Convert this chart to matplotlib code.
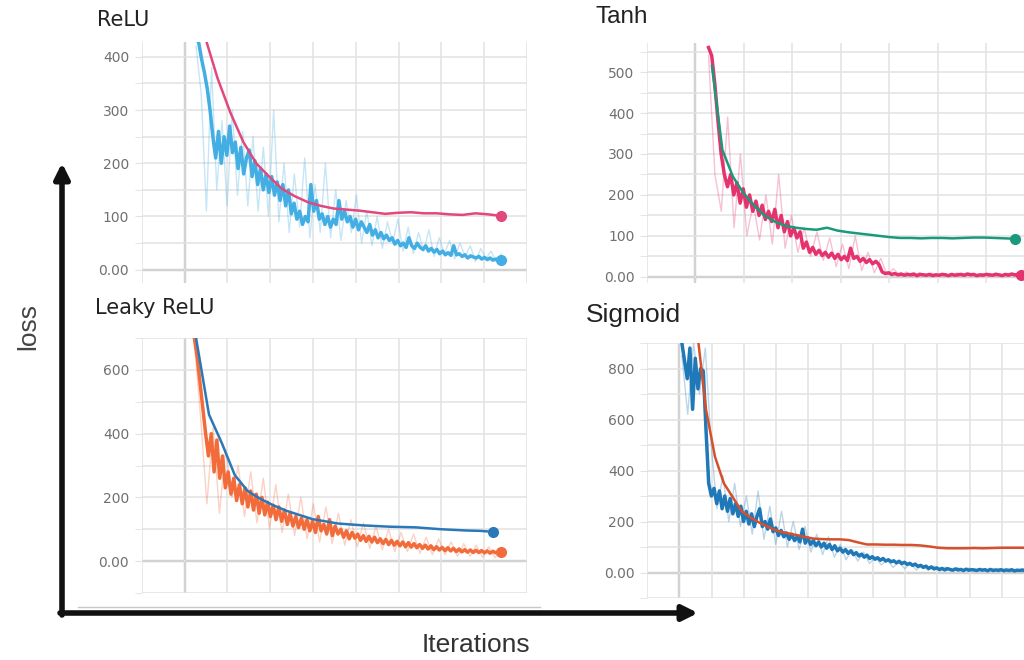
import numpy as np
import matplotlib.pyplot as plt
from matplotlib.ticker import MultipleLocator, FuncFormatter
from matplotlib.lines import Line2D

# ---- ReLU ----
relu_raw = [440, 425, 395, 370, 340, 300, 250, 210, 260, 200,
            250, 215, 270, 220, 240, 190, 230, 180, 210, 225,
            175, 205, 160, 190, 150, 180, 145, 175, 140, 165,
            130, 160, 120, 150, 105, 125, 95, 110, 85, 100,
            90, 160, 110, 130, 95, 105, 85, 100, 80, 95,
            85, 130, 95, 110, 90, 100, 80, 95, 75, 90,
            80, 70, 85, 65, 75, 60, 70, 58, 65, 55,
            60, 48, 55, 45, 50, 42, 60, 45, 40, 50,
            42, 38, 45, 35, 40, 33, 38, 30, 35, 28,
            32, 27, 45, 28, 30, 25, 28, 22, 26, 24,
            22, 25, 20, 23, 19, 22, 18, 20, 17, 18]
relu_light = [420, 330, 110, 380, 150, 280, 120, 300, 140, 260,
              120, 250, 110, 230, 100, 300, 90, 200, 70, 180,
              80, 210, 60, 160, 70, 200, 60, 150, 55, 130,
              70, 140, 50, 110, 45, 100, 40, 90, 50, 95,
              35, 80, 30, 70, 35, 75, 25, 60, 30, 55,
              20, 50, 25, 45, 15, 40, 20, 35, 15, 30]
relu_smooth = [440, 360, 295, 240, 200, 175, 152, 138, 127, 120, 115, 113,
               111, 108, 105, 107, 108, 106, 106, 104, 103, 106, 104, 101]

# ---- Tanh ----
tanh_raw = [560, 540, 470, 380, 300, 250, 220, 250, 200, 230,
            180, 215, 170, 200, 160, 185, 150, 175, 140, 160,
            135, 165, 120, 150, 110, 135, 100, 120, 95, 110,
            70, 85, 60, 72, 55, 65, 52, 60, 48, 58,
            45, 55, 42, 50, 40, 70, 45, 50, 38, 45,
            35, 42, 32, 38, 30, 12, 8, 10, 6, 8,
            5, 7, 4, 6, 5, 7, 3, 6, 5, 4,
            6, 3, 5, 4, 6, 5, 3, 6, 4, 5,
            6, 4, 7, 5, 6, 3, 5, 4, 6, 5,
            4, 6, 5, 3, 6, 4, 7, 5, 6, 5]
tanh_light = [540, 250, 160, 390, 120, 300, 100, 180, 90, 200,
              80, 250, 70, 150, 60, 120, 50, 110, 40, 95,
              25, 80, 20, 100, 15, 60, 10, 45, 5, 20,
              2, 12, 1, 10, 2, 9, 1, 8, 2, 10,
              1, 9, 2, 8, 1, 10, 2, 9, 1, 8]
tanh_smooth = [515, 310, 245, 205, 175, 150, 135, 125, 120, 117, 115, 120,
               113, 109, 106, 103, 100, 97, 95, 95, 94, 95, 95, 94, 95,
               96, 96, 95, 94, 93]

# ---- Leaky ReLU ----
leaky_raw = [700, 640, 560, 480, 400, 330, 400, 280, 380, 260,
             330, 230, 280, 210, 260, 190, 240, 180, 230, 170,
             220, 160, 210, 150, 200, 145, 185, 140, 175, 130,
             170, 125, 160, 115, 150, 110, 140, 105, 135, 100,
             130, 95, 125, 90, 140, 95, 115, 85, 130, 80,
             110, 85, 100, 75, 95, 70, 90, 72, 85, 65,
             80, 62, 78, 60, 75, 58, 70, 55, 68, 52,
             65, 50, 62, 48, 60, 45, 58, 44, 55, 42,
             52, 40, 50, 38, 48, 36, 45, 35, 43, 33,
             42, 32, 40, 30, 38, 29, 36, 28, 35, 27,
             34, 27, 33, 26, 32, 25, 31, 26, 30, 28]
leaky_light = [690, 450, 180, 420, 150, 350, 200, 300, 140, 280,
               120, 260, 100, 240, 90, 210, 80, 200, 70, 180,
               60, 170, 55, 150, 50, 130, 45, 120, 40, 110,
               35, 100, 30, 90, 30, 85, 25, 75, 20, 70,
               20, 60, 15, 55, 15, 50, 12, 45, 10, 40]
leaky_smooth = [700, 460, 370, 270, 220, 195, 175, 158, 145, 132, 125, 118,
                115, 112, 110, 108, 107, 106, 103, 100, 98, 96, 95, 92]

# ---- Sigmoid ----
sig_raw = [900, 830, 760, 880, 640, 840, 720, 800, 790, 560,
           350, 300, 330, 270, 320, 250, 300, 240, 290, 230,
           270, 220, 260, 200, 240, 190, 230, 180, 220, 250,
           180, 200, 170, 210, 160, 175, 145, 165, 140, 155,
           130, 150, 125, 140, 120, 170, 115, 135, 110, 125,
           105, 120, 100, 115, 95, 110, 90, 105, 85, 95,
           80, 90, 75, 85, 70, 78, 65, 72, 60, 68,
           55, 62, 52, 58, 48, 55, 45, 50, 42, 46,
           38, 44, 35, 40, 32, 36, 28, 33, 24, 28,
           20, 25, 16, 22, 14, 18, 12, 16, 10, 15,
           12, 9, 14, 10, 12, 8, 13, 9, 11, 10,
           8, 12, 9, 11, 7, 12, 8, 10, 9, 11,
           7, 10, 8, 11, 6, 9, 8, 10, 7, 9]
sig_light = [850, 620, 900, 700, 880, 500, 250, 380, 200, 350,
             180, 300, 150, 320, 130, 260, 110, 240, 100, 200,
             90, 180, 80, 150, 70, 140, 60, 110, 50, 90,
             45, 80, 35, 60, 30, 50, 20, 40, 15, 35,
             10, 30, 8, 25, 5, 22, 5, 20, 3, 18,
             4, 16, 3, 15, 2, 14, 3, 13, 2, 12]
sig_smooth = [950, 640, 455, 350, 295, 240, 215, 195, 178, 163, 155, 148,
              140, 133, 131, 130, 130, 127, 118, 110, 110, 109, 109, 108,
              108, 106, 102, 97, 95, 95, 95, 96, 95, 96, 97, 97, 97, 97]

W, H = 1024, 660
fig = plt.figure(figsize=(W / 100, H / 100), dpi=100)


def fmt(v, pos):
    return '0.00' if abs(v) < 1e-9 else f'{v:.0f}'


def rect(x0, y0, x1, y1):
    return [x0 / W, 1 - y1 / H, (x1 - x0) / W, (y1 - y0) / H]


def panel(r, xlim, ylim, major, minor):
    ax = fig.add_axes(r)
    ax.set_xlim(*xlim)
    ax.set_ylim(*ylim)
    ax.xaxis.set_major_locator(MultipleLocator(1))
    ax.yaxis.set_major_locator(MultipleLocator(major))
    ax.yaxis.set_minor_locator(MultipleLocator(minor))
    ax.yaxis.set_major_formatter(FuncFormatter(fmt))
    ax.grid(which='both', color='#e2e2e2', lw=1.1)
    ax.axhline(0, color='#a0a0a0', lw=1.6, zorder=1)
    ax.axvline(0, color='#a0a0a0', lw=1.6, zorder=1)
    for s in ax.spines.values():
        s.set_visible(False)
    ax.tick_params(axis='x', labelbottom=False, length=0)
    ax.tick_params(axis='y', which='both', length=5, color='#e2e2e2',
                   labelsize=10, labelcolor='#707070', pad=4)
    return ax


def draw(ax, light, raw, smooth, xr, xs, c_raw, c_smooth, ends=True):
    ax.plot(np.linspace(xr[0], xr[1], len(light)), light, color=c_raw,
            lw=1.0, alpha=0.3, zorder=2)
    x_raw = np.linspace(xr[0], xr[1], len(raw))
    ax.plot(x_raw, raw, color=c_raw, lw=2.5, zorder=3)
    x_s = np.linspace(xs[0], xs[1], len(smooth))
    ax.plot(x_s, smooth, color=c_smooth, lw=1.8, zorder=4)
    if ends:
        ax.plot(x_s[-1], smooth[-1], 'o', color=c_smooth, ms=7, zorder=5,
                clip_on=False)
        ax.plot(x_raw[-1], raw[-1], 'o', color=c_raw, ms=7, zorder=5,
                clip_on=False)


# ReLU
ax1 = panel(rect(141.7, 42, 527, 283), (-1, 8), (-25, 428), 100, 50)
draw(ax1, relu_light, relu_raw, relu_smooth, (0.27, 7.4), (0.47, 7.4),
     '#42aee3', '#e2487c')

# Tanh
ax2 = panel(rect(647, 43, 1024, 283), (-1, 6.78), (-15, 571), 100, 50)
draw(ax2, tanh_light, tanh_raw, tanh_smooth, (0.27, 6.72), (0.34, 6.6),
     '#e5336d', '#1b9a7b')

# Leaky ReLU
ax3 = panel(rect(141.7, 338, 527, 593), (-1, 8), (-100, 700), 200, 100)
draw(ax3, leaky_light, leaky_raw, leaky_smooth, (0.23, 7.4), (0.27, 7.2),
     '#f26b3b', '#2b78b8')

# Sigmoid (cut off at the right, no end dots)
ax4 = panel(rect(647, 343, 1024, 598), (-1, 10.68), (-100, 900), 200, 100)
draw(ax4, sig_light, sig_raw, sig_smooth, (0.08, 10.8), (0.55, 10.8),
     '#1f78b8', '#d6502c', ends=False)

# panel titles
fig.text(97 / W, 1 - 20 / H, 'ReLU', fontsize=15, color='#222222',
         va='center', family='DejaVu Sans')
fig.text(95 / W, 1 - 308 / H, 'Leaky ReLU', fontsize=15, color='#222222',
         va='center', family='DejaVu Sans')
fig.text(596 / W, 1 - 17 / H, 'Tanh', fontsize=17.5, color='#222222',
         va='center', family='Liberation Sans')
fig.text(586 / W, 1 - 315 / H, 'Sigmoid', fontsize=19, color='#222222',
         va='center', family='Liberation Sans')

# big axis arrows
arrow = dict(arrowstyle='-|>,head_width=0.45,head_length=0.9',
             lw=4, color='#111111', shrinkA=0, shrinkB=0)
fig.add_artist(Line2D([78 / W, 540 / W], [1 - 607 / H] * 2, color='#c8c8c8',
                      lw=1))
plt.annotate('', xy=(62, H - 163), xytext=(62, H - 615),
             xycoords='figure pixels', textcoords='figure pixels',
             arrowprops=arrow)
plt.annotate('', xy=(698, H - 613), xytext=(60, H - 613),
             xycoords='figure pixels', textcoords='figure pixels',
             arrowprops=arrow)
fig.text(28 / W, 1 - 327 / H, 'loss', fontsize=19, color='#444444',
         rotation=90, ha='center', va='center', family='Liberation Sans')
fig.text(476 / W, 1 - 645 / H, 'Iterations', fontsize=19, color='#333333',
         ha='center', va='center', family='Liberation Sans')

fig.savefig('out.png', dpi=100)
